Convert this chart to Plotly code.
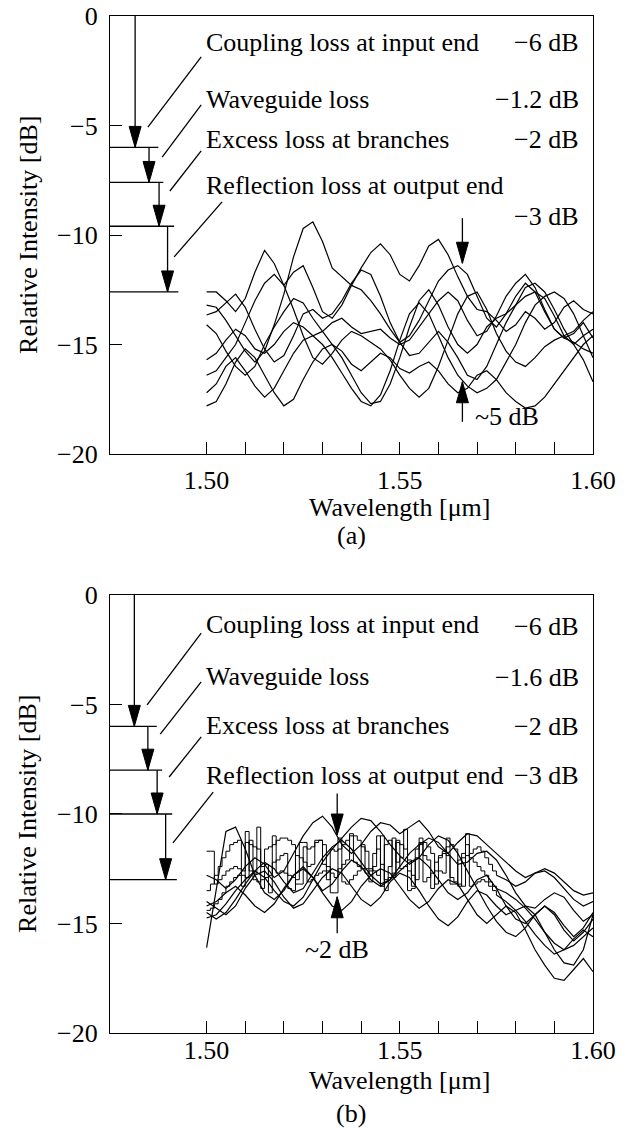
import numpy as np
import plotly.graph_objects as go

# ---------------- data ----------------
X_RANGE = [1.475, 1.600]
Y_RANGE = [-20, 0]
x_tickvals = [1.50, 1.51, 1.52, 1.53, 1.54, 1.55, 1.56, 1.57, 1.58, 1.59, 1.60]
x_ticktext = ["1.50", "", "", "", "", "1.55", "", "", "", "", "1.60"]
y_tickvals = [0, -5, -10, -15, -20]
y_ticktext = ["0", "\u22125", "\u221210", "\u221215", "\u221220"]

wl_smooth = np.round(np.linspace(1.500, 1.600, 41), 4)   # 0.0025 um steps
wl_spiky = np.round(np.linspace(1.500, 1.575, 76), 4)    # 0.001 um steps
wl_tail = np.round(np.linspace(1.575, 1.600, 11), 4)     # 0.0025 um steps

# (a) transmission spectra, dB
a1 = [-12.6, -12.6, -13.0, -13.5, -12.9, -11.7, -10.7, -11.3, -12.3, -11.7, -11.4, -12.4, -13.5, -13.8, -13.2, -12.3, -11.5, -10.8, -10.4, -10.9, -11.8,
      -12.1, -11.4, -10.5, -10.2, -10.9, -11.9, -12.8, -13.4, -13.5, -13.9, -14.4, -14.1, -13.5, -13.8, -14.3, -14.0, -13.3, -13.0, -13.4, -13.6]
a2 = [-13.2, -13.3, -13.9, -14.6, -15.3, -15.8, -15.3, -14.1, -12.7, -11.0, -9.7, -9.4, -10.3, -11.5, -11.9, -12.3, -12.5, -13.0, -13.6, -14.3, -14.9,
      -14.6, -13.9, -13.0, -12.1, -11.6, -11.4, -11.8, -12.8, -13.8, -14.2, -13.6, -12.8, -12.2, -12.6, -13.5, -14.3, -14.7, -14.9, -15.2, -15.4]
a3 = [-13.65, -13.5, -13.1, -12.7, -13.3, -14.3, -15.2, -15.8, -15.5, -14.6, -13.6, -13.4, -13.8, -13.6, -13.0, -12.2, -11.6, -11.8, -12.8, -14.0, -14.9,
      -15.5, -15.4, -14.9, -14.4, -14.9, -15.6, -16.4, -16.6, -16.0, -15.0, -14.0, -13.2, -12.4, -12.2, -12.6, -13.4, -14.3, -15.0, -15.7, -16.7]
a4 = [-14.1, -14.5, -15.3, -16.0, -16.4, -16.0, -15.0, -14.2, -13.5, -12.9, -13.1, -13.8, -14.4, -15.0, -15.6, -16.4, -17.2, -17.7, -17.6, -16.8, -15.6,
      -14.2, -13.0, -12.5, -13.2, -14.2, -15.0, -15.4, -15.0, -14.2, -13.8, -13.6, -13.2, -12.8, -12.6, -12.9, -13.7, -14.6, -15.0, -14.6, -14.3]
a5 = [-15.7, -15.4, -14.8, -14.3, -14.6, -15.2, -15.4, -15.0, -14.4, -14.0, -14.2, -14.6, -14.4, -14.0, -13.8, -14.2, -14.5, -14.4, -14.3, -14.7, -15.0,
      -14.8, -14.2, -13.6, -13.0, -12.6, -13.0, -13.9, -14.6, -14.4, -13.7, -12.8, -12.2, -11.8, -12.4, -13.4, -14.3, -14.7, -14.5, -14.0, -14.7]
a6 = [-16.4, -16.2, -15.6, -15.0, -14.0, -13.0, -12.2, -11.8, -12.3, -13.4, -14.6, -15.6, -15.9, -15.4, -14.8, -14.4, -14.6, -14.9, -15.2, -15.7, -16.4,
      -17.0, -17.4, -17.0, -16.0, -14.8, -13.6, -12.8, -12.6, -13.4, -14.5, -15.3, -15.8, -16.0, -15.6, -15.1, -14.8, -14.6, -14.4, -13.9, -13.5]
a7 = [-17.2, -16.8, -16.0, -15.6, -16.2, -16.9, -17.4, -17.0, -16.2, -15.4, -14.8, -14.6, -15.0, -15.6, -16.3, -17.0, -17.6, -17.8, -17.3, -16.2, -14.8,
      -13.6, -13.1, -13.6, -14.6, -15.6, -16.4, -16.9, -17.2, -17.0, -16.6, -15.8, -15.0, -14.0, -13.2, -12.8, -12.6, -12.9, -13.6, -14.6, -15.6]
a8 = [-17.8, -17.6, -16.8, -15.8, -15.2, -15.6, -16.4, -17.2, -17.8, -17.5, -16.6, -15.8, -15.2, -15.0, -15.3, -15.9, -16.2, -15.8, -15.4, -15.6, -16.1,
      -16.3, -16.0, -15.8, -16.2, -16.8, -17.2, -17.0, -16.4, -16.2, -16.6, -17.2, -17.6, -17.9, -17.8, -17.4, -16.8, -16.2, -15.6, -15.0, -14.6]
curves_a = [a1, a2, a3, a4, a5, a6, a7, a8]

# (b) transmission spectra, dB (smooth ones)
b1 = [-16.1, -13.4, -10.8, -10.6, -11.6, -12.8, -13.6, -13.9, -13.5, -12.8, -12.4, -12.9, -13.5, -13.2, -12.6, -12.1, -12.4, -13.0, -13.3, -13.0, -12.6,
      -12.2, -12.0, -12.4, -13.0, -13.6, -13.9, -13.6, -13.0, -12.8, -13.4, -14.2, -14.8, -15.0, -14.6, -14.2, -14.6, -15.3, -15.8, -15.4, -14.8]
b2 = [-12.8, -13.0, -13.4, -13.0, -12.4, -12.0, -12.3, -12.9, -12.6, -11.8, -11.0, -10.4, -10.1, -10.6, -11.4, -11.8, -11.4, -10.8, -10.4, -10.5, -10.9,
      -10.6, -10.3, -10.8, -11.5, -11.8, -11.3, -10.9, -11.0, -11.4, -11.8, -12.2, -12.6, -12.9, -12.7, -12.5, -12.7, -13.1, -13.5, -13.7, -13.6]
b4 = [-14.0, -14.3, -14.6, -14.2, -13.4, -12.8, -12.6, -13.1, -13.8, -14.3, -14.1, -13.5, -12.9, -12.5, -12.7, -13.3, -13.9, -14.2, -13.8, -13.1, -12.7,
      -12.9, -13.5, -14.2, -14.8, -15.1, -14.7, -14.0, -13.5, -13.7, -14.2, -14.6, -14.4, -14.2, -14.6, -15.4, -16.2, -16.8, -16.9, -16.2, -14.6]
b5 = [-14.2, -14.0, -13.6, -13.3, -13.7, -14.2, -14.5, -14.1, -13.4, -12.8, -12.5, -12.9, -13.6, -14.2, -14.4, -14.0, -13.3, -12.8, -12.5, -12.7, -13.3,
      -13.9, -14.3, -14.0, -13.4, -13.0, -13.2, -13.9, -14.6, -15.0, -14.6, -14.2, -14.5, -15.3, -16.2, -16.9, -17.5, -17.6, -17.1, -16.6, -17.2]
b6 = [-14.5, -14.8, -14.5, -13.9, -13.2, -12.6, -12.2, -12.5, -13.1, -13.6, -13.4, -12.7, -12.0, -11.5, -11.2, -11.6, -12.2, -12.8, -13.2, -13.0, -12.4,
      -11.8, -11.4, -11.1, -11.3, -11.8, -12.3, -12.2, -11.8, -11.7, -12.1, -12.8, -13.6, -14.2, -14.3, -13.9, -13.6, -13.8, -14.4, -14.9, -14.6]
b7 = [-14.75, -14.6, -14.1, -13.5, -13.0, -12.6, -12.9, -13.5, -14.0, -14.2, -13.8, -13.0, -12.2, -11.6, -11.1, -10.6, -10.2, -10.3, -10.8, -11.4, -11.9,
      -12.3, -12.0, -11.4, -11.0, -11.2, -11.8, -12.6, -13.4, -14.2, -14.9, -15.4, -15.6, -15.2, -14.6, -14.2, -14.5, -15.1, -15.6, -15.2, -14.5]
curves_b = [b1, b2, b4, b5, b6, b7]

# (b) spectra with switching spikes (fine steps) and their tails
s1 = [-11.7, -11.7, -13.2, -13.0, -12.8, -12.6, -12.5, -12.4, -12.5, -12.6,
      -10.8, -12.6, -12.7, -10.6, -12.4, -12.3, -13.6, -12.2, -12.1, -11.9,
      -11.8, -13.4, -13.5, -11.9, -12.0, -12.2, -12.4, -12.3, -11.2, -11.2,
      -12.3, -12.4, -13.6, -13.6, -12.5, -12.3, -12.1, -10.9, -12.2, -12.4,
      -12.5, -12.7, -12.6, -12.4, -11.0, -12.3, -13.5, -12.4, -11.1, -12.2,
      -12.0, -10.7, -12.1, -13.3, -12.0, -11.1, -11.9, -12.1, -13.4, -12.2,
      -12.0, -11.8, -11.9, -13.2, -13.2, -12.1, -12.0, -10.9, -12.0, -12.2,
      -12.4, -12.6, -12.8, -13.1, -13.3, -13.4]
s2 = [-13.5, -13.2, -12.8, -12.4, -12.0, -11.7, -11.4, -11.3, -11.2, -13.3,
      -11.3, -11.4, -11.5, -11.6, -13.4, -11.6, -11.5, -11.4, -11.2, -11.1,
      -11.1, -11.2, -11.4, -13.2, -13.2, -11.5, -11.6, -11.5, -11.3, -11.2,
      -11.4, -13.0, -11.6, -11.7, -11.6, -11.4, -11.2, -11.0, -11.0, -11.2,
      -11.5, -11.7, -13.1, -11.8, -11.6, -13.3, -11.4, -11.2, -12.9, -11.3,
      -11.4, -11.6, -13.5, -13.4, -11.6, -11.4, -11.3, -11.5, -11.8, -13.2,
      -11.9, -11.7, -11.5, -11.4, -11.6, -13.3, -11.8, -11.9, -11.8, -11.6,
      -11.5, -11.7, -12.0, -12.3, -12.6, -12.8]
s3 = [-14.4, -14.3, -14.1, -13.9, -13.6, -13.3, -13.1, -12.9, -12.8, -12.8,
      -12.9, -11.2, -13.0, -13.1, -13.0, -12.9, -12.8, -11.0, -12.7, -12.6,
      -12.7, -12.8, -12.9, -13.0, -11.3, -11.3, -13.1, -13.0, -12.8, -12.7,
      -12.6, -12.6, -12.7, -12.9, -11.1, -13.1, -13.2, -13.0, -12.8, -12.6,
      -11.4, -12.5, -12.5, -12.6, -12.8, -11.0, -13.0, -12.9, -12.7, -11.2,
      -12.5, -12.4, -12.6, -12.8, -13.0, -11.3, -13.1, -12.9, -12.7, -12.6,
      -12.6, -12.7, -11.1, -12.9, -13.1, -13.2, -13.3, -11.4, -13.3, -13.2,
      -13.1, -13.0, -13.1, -13.3, -13.5, -13.7]
s1_tail = [-13.4, -13.6, -13.9, -14.3, -14.8, -15.4, -15.9, -16.2, -16.0, -15.6, -15.2]
s2_tail = [-12.8, -13.0, -13.3, -13.1, -12.7, -12.6, -12.9, -13.4, -13.9, -14.2, -14.0]
s3_tail = [-13.7, -14.0, -14.4, -14.9, -15.5, -16.0, -16.4, -16.2, -15.7, -15.3, -15.6]
spiky_b = [s1, s2, s3]
tails_b = [s1_tail, s2_tail, s3_tail]

# loss budget annotations
loss_labels = ["Coupling loss at input end", "Waveguide loss",
               "Excess loss at branches", "Reflection loss at output end"]
loss_values_a = ["\u22126 dB", "\u22121.2 dB", "\u22122 dB", "\u22123 dB"]
loss_values_b = ["\u22126 dB", "\u22121.6 dB", "\u22122 dB", "\u22123 dB"]
label_y_a = [-1.23, -3.79, -5.66, -7.72]
value_y_a = [-1.23, -3.79, -5.66, -9.16]
label_y_b = [-1.37, -3.73, -5.97, -8.22]
value_y_b = [-1.45, -3.78, -6.01, -8.22]
LABEL_X = 1.4993
VALUE_X = 1.5969

ladder_levels_a = [0, -6, -7.6, -9.6, -12.6]
ladder_levels_b = [0, -6, -8, -10, -13]
ladder_arrow_x_a = [1.4815, 1.4851, 1.4877, 1.4899]
ladder_arrow_x_b = [1.4813, 1.4848, 1.4872, 1.4894]
ladder_line_end_a = [1.4875, 1.4888, 1.4916, 1.4927]
ladder_line_end_b = [1.4871, 1.4885, 1.4911, 1.4923]

leader_x0_a = [1.4986, 1.4986, 1.4986, 1.5040]
leader_y0_a = [-1.87, -4.06, -6.16, -8.49]
leader_x1_a = [1.4848, 1.4885, 1.4905, 1.4916]
leader_y1_a = [-5.07, -6.44, -7.99, -11.0]
leader_x0_b = [1.4986, 1.4986, 1.4986, 1.5017]
leader_y0_b = [-1.74, -3.97, -6.48, -9.0]
leader_x1_b = [1.4846, 1.4880, 1.4903, 1.4913]
leader_y1_b = [-5.02, -6.35, -8.31, -11.32]

ripple_a = dict(x=1.5662, top_from=-9.23, top_tip=-11.29, bot_tip=-16.7, bot_from=-18.53,
                text="~5 dB", tx=1.5689, ty=-18.3, anchor="left")
ripple_b = dict(x=1.5338, top_from=-9.06, top_tip=-10.96, bot_tip=-13.78, bot_from=-15.45,
                text="~2 dB", tx=1.5337, ty=-16.2, anchor="center")

# ---------------- figure ----------------
FONT = "Liberation Serif"
FS = 26
LW = 1.3

fig = go.Figure()

line_style = dict(color="black", width=1.2)
for c in curves_a:
    fig.add_trace(go.Scatter(x=wl_smooth, y=c, mode="lines", line=line_style,
                             xaxis="x", yaxis="y", showlegend=False, hoverinfo="skip"))
for c in curves_b:
    fig.add_trace(go.Scatter(x=wl_smooth, y=c, mode="lines", line=line_style,
                             xaxis="x2", yaxis="y2", showlegend=False, hoverinfo="skip"))
for s, t in zip(spiky_b, tails_b):
    fig.add_trace(go.Scatter(x=wl_spiky, y=s, mode="lines", line=dict(color="black", width=1.0, shape="hv"),
                             xaxis="x2", yaxis="y2", showlegend=False, hoverinfo="skip"))
    fig.add_trace(go.Scatter(x=wl_tail, y=t, mode="lines", line=line_style,
                             xaxis="x2", yaxis="y2", showlegend=False, hoverinfo="skip"))

shapes = []
annotations = []


def seg(xr, yr, x0, y0, x1, y1):
    shapes.append(dict(type="line", xref=xr, yref=yr, x0=x0, y0=y0, x1=x1, y1=y1,
                       line=dict(color="black", width=LW)))


def head(xr, yr, x, y, down=True):
    path = "M0,0 L-6,21 L6,21 Z" if down else "M0,0 L-6,-21 L6,-21 Z"
    shapes.append(dict(type="path", xref=xr, yref=yr, xsizemode="pixel", ysizemode="pixel",
                       xanchor=x, yanchor=y, path=path, fillcolor="black",
                       line=dict(color="black", width=1)))


def panel(xr, yr, levels, ax, lend, lx0, ly0, lx1, ly1, vals, ly, vy, rip):
    # loss ladder
    for i in range(4):
        seg(xr, yr, ax[i], levels[i], ax[i], levels[i + 1])
        head(xr, yr, ax[i], levels[i + 1], down=True)
        seg(xr, yr, X_RANGE[0], levels[i + 1], lend[i], levels[i + 1])
        seg(xr, yr, lx0[i], ly0[i], lx1[i], ly1[i])
        annotations.append(dict(xref=xr, yref=yr, x=LABEL_X, y=ly[i], text=loss_labels[i],
                                showarrow=False, xanchor="left", yanchor="middle",
                                font=dict(family=FONT, size=FS, color="black")))
        annotations.append(dict(xref=xr, yref=yr, x=VALUE_X, y=vy[i], text=vals[i],
                                showarrow=False, xanchor="right", yanchor="middle",
                                font=dict(family=FONT, size=FS, color="black")))
    # ripple markers
    seg(xr, yr, rip["x"], rip["top_from"], rip["x"], rip["top_tip"])
    head(xr, yr, rip["x"], rip["top_tip"], down=True)
    seg(xr, yr, rip["x"], rip["bot_from"], rip["x"], rip["bot_tip"])
    head(xr, yr, rip["x"], rip["bot_tip"], down=False)
    annotations.append(dict(xref=xr, yref=yr, x=rip["tx"], y=rip["ty"], text=rip["text"],
                            showarrow=False, xanchor=rip["anchor"], yanchor="middle",
                            font=dict(family=FONT, size=FS, color="black")))


panel("x", "y", ladder_levels_a, ladder_arrow_x_a, ladder_line_end_a,
      leader_x0_a, leader_y0_a, leader_x1_a, leader_y1_a, loss_values_a, label_y_a, value_y_a, ripple_a)
panel("x2", "y2", ladder_levels_b, ladder_arrow_x_b, ladder_line_end_b,
      leader_x0_b, leader_y0_b, leader_x1_b, leader_y1_b, loss_values_b, label_y_b, value_y_b, ripple_b)

# axis titles and panel labels
for xd, yd, ty, py, lab in [("x domain", "y domain", -0.121, -0.187, "(a)"),
                            ("x2 domain", "y2 domain", -0.108, -0.184, "(b)")]:
    annotations.append(dict(xref=xd, yref=yd, x=0.6, y=ty, text="Wavelength [\u03bcm]",
                            showarrow=False, xanchor="center", yanchor="middle",
                            font=dict(family=FONT, size=FS, color="black")))
    annotations.append(dict(xref=xd, yref=yd, x=0.499, y=py, text=lab,
                            showarrow=False, xanchor="center", yanchor="middle",
                            font=dict(family=FONT, size=FS, color="black")))
    annotations.append(dict(xref=xd, yref=yd, x=-0.17, y=0.5, text="Relative Intensity [dB]",
                            textangle=-90, showarrow=False, xanchor="center", yanchor="middle",
                            font=dict(family=FONT, size=FS, color="black")))

xaxis_common = dict(range=X_RANGE, tickmode="array", tickvals=x_tickvals, ticktext=x_ticktext,
                    ticks="inside", ticklen=12, tickwidth=LW, tickcolor="black",
                    showline=True, linecolor="black", linewidth=LW, mirror=True,
                    showgrid=False, zeroline=False,
                    tickfont=dict(family=FONT, size=FS, color="black"))
yaxis_common = dict(range=Y_RANGE, tickmode="array", tickvals=y_tickvals, ticktext=y_ticktext,
                    ticks="inside", ticklen=12, tickwidth=LW, tickcolor="black",
                    showline=True, linecolor="black", linewidth=LW, mirror=True,
                    showgrid=False, zeroline=False, ticklabelstandoff=6,
                    tickfont=dict(family=FONT, size=FS, color="black"))

fig.update_layout(
    width=626, height=1130,
    margin=dict(l=110, r=33, t=16, b=97, autoexpand=False),
    paper_bgcolor="white", plot_bgcolor="white",
    xaxis=dict(**xaxis_common, domain=[0, 1], anchor="y", ticklabelstandoff=3),
    yaxis=dict(**yaxis_common, domain=[0.5693, 1.0], anchor="x"),
    xaxis2=dict(**xaxis_common, domain=[0, 1], anchor="y2", ticklabelstandoff=-6),
    yaxis2=dict(**yaxis_common, domain=[0.0, 0.4307], anchor="x2"),
    shapes=shapes,
    annotations=annotations,
    showlegend=False,
)

fig.write_html("out.html", config={"displayModeBar": False},
               post_script="document.body.style.margin='0px';document.body.style.overflow='hidden';")
